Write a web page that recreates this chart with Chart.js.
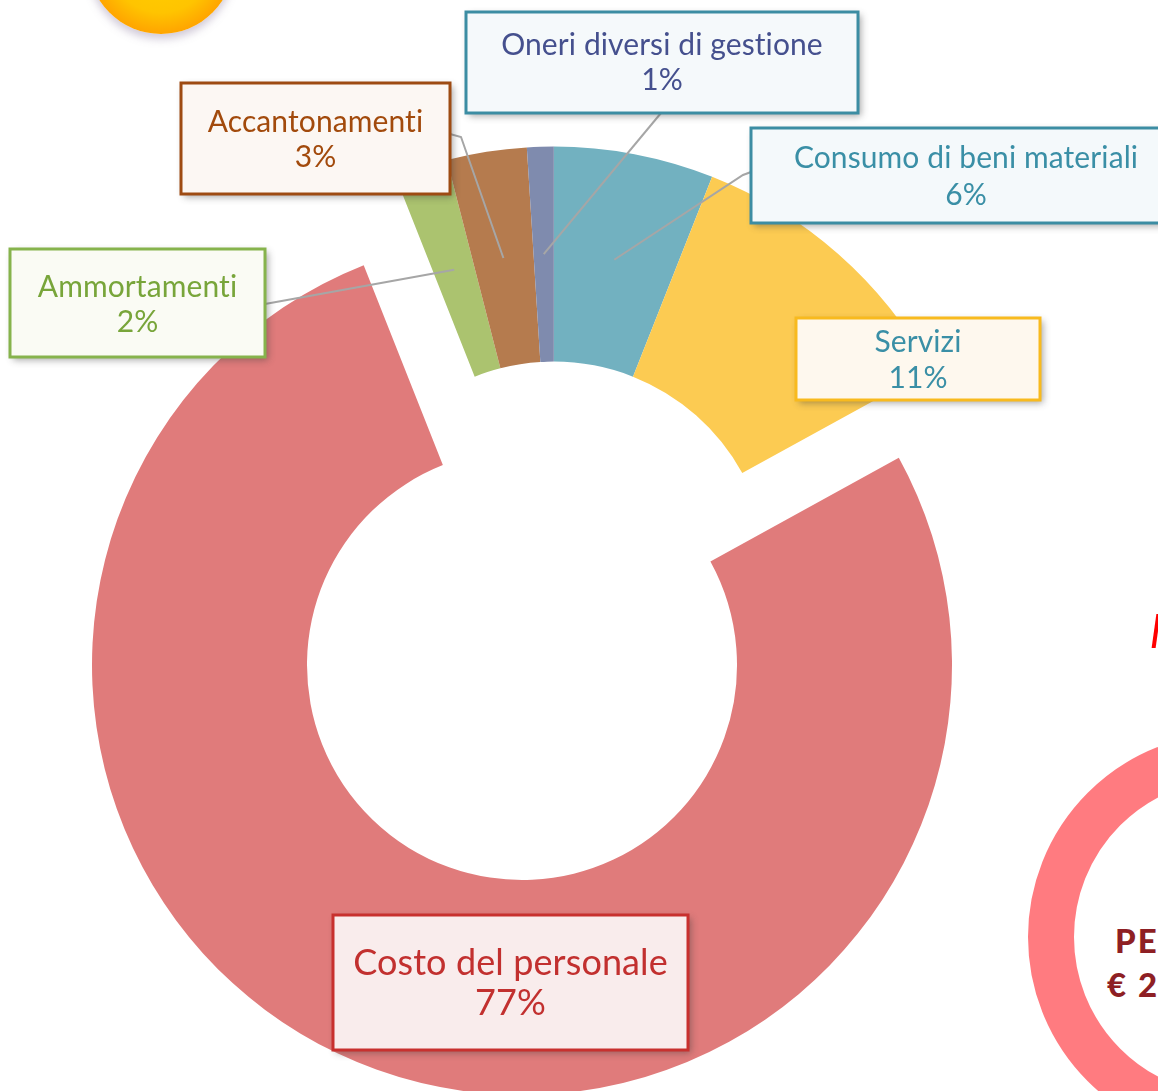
<!DOCTYPE html>
<html>
<head>
<meta charset="utf-8">
<script src="https://cdn.jsdelivr.net/npm/chart.js@4.4.1/dist/chart.umd.min.js"></script>
<style>
  html, body { margin: 0; padding: 0; background: #fff; overflow: hidden; }
  #wrap { position: relative; width: 1158px; height: 1091px; overflow: hidden; }
  #costchart { position: absolute; left: 0; top: 0; }
  .sun {
    position: absolute; left: 88px; top: -112px; width: 146px; height: 146px; border-radius: 50%;
    background: radial-gradient(circle, #FFD200 0%, #FFC400 50%, #FFA800 68%, #FF9600 85%, #FF8C00 100%);
    box-shadow: 0 5px 9px rgba(120, 100, 140, 0.35);
  }
  .ring {
    position: absolute; left: 1028px; top: 733px; width: 408px; height: 408px; box-sizing: border-box;
    border: 46px solid #FF7B80; border-radius: 50%;
  }
  .ringtext {
    position: absolute; font-family: Lato, sans-serif; font-weight: 900; font-size: 33px;
    color: #8E1F24; letter-spacing: 2px; line-height: 1; white-space: nowrap;
  }
  .slash {
    position: absolute; left: 1154px; top: 614px; width: 4px; height: 34px; background: #F00;
    transform: skewX(-8deg);
  }
</style>
</head>
<body>
<div id="wrap">
  <div class="sun"></div>
  <div class="ring"></div>
  <div class="slash"></div>
  <div class="ringtext" style="left:1115px; top:924px;">PE</div>
  <div class="ringtext" style="left:1107px; top:968px;">€ 2</div>
  <canvas id="costchart" width="1158" height="1100"></canvas>
</div>
<script>
// data, in the order the slices run clockwise from the top
var categories = ["Consumo di beni materiali", "Servizi", "Costo del personale", "Ammortamenti", "Accantonamenti", "Oneri diversi di gestione"];
var shares = [6, 11, 77, 2, 3, 1];
var sliceColors = ["#72B1C0", "#FCCB52", "#E07B7B", "#ABC36F", "#B57B4E", "#7F8BAE"];
var mainIndex = 2;       // the slice that stays in place, the others are pulled out together
var explode = 94;

// callout boxes (pixels), same order as categories
var callouts = [
  { x: 751, y: 128, w: 430, h: 95, lines: [158, 195], size: 30, color: "#3A8FA6", border: "#3C8DA3", fill: "#F4F9FB", leader: [[751, 172], [743, 175]] },
  { x: 796, y: 318, w: 244, h: 82, lines: [342, 378], size: 30, color: "#3A8FA6", border: "#F8BA1E", fill: "#FEF8EE", leader: null },
  { x: 333, y: 915, w: 355, h: 135, lines: [963, 1003], size: 36, color: "#C2302F", border: "#C8302E", fill: "#F9ECEC", leader: null },
  { x: 10, y: 249, w: 255, h: 108, lines: [287, 322], size: 30, color: "#78A53A", border: "#86B34C", fill: "#FAFBF4", leader: [[265, 304]] },
  { x: 181, y: 83, w: 269, h: 111, lines: [122, 157], size: 30, color: "#A24A0C", border: "#9E4B12", fill: "#FCF7F3", leader: [[450, 134], [461, 137]] },
  { x: 466, y: 12, w: 392, h: 101, lines: [45, 80], size: 30, color: "#45508E", border: "#3C8DA3", fill: "#F5F9FB", leader: [[661, 113]] }
];

function explodeShift(meta) {
  var main = meta.data[mainIndex];
  var mid = (main.startAngle + main.endAngle) / 2;
  return { x: -Math.cos(mid) * explode, y: -Math.sin(mid) * explode };
}

// pull every small slice out by the same vector
var explodePlugin = {
  id: "explodeGroup",
  afterDatasetUpdate: function (chart, args) {
    var meta = args.meta;
    meta.data.forEach(function (arc, i) {
      if (i === mainIndex || arc._grouped) return;
      var orig = arc.draw;
      arc._grouped = true;
      arc.draw = function (ctx, area) {
        var s = explodeShift(meta);
        ctx.save();
        ctx.translate(s.x, s.y);
        orig.call(this, ctx, area);
        ctx.restore();
      };
    });
  }
};

var calloutPlugin = {
  id: "callouts",
  afterDatasetsDraw: function (chart) {
    var ctx = chart.ctx;
    var meta = chart.getDatasetMeta(0);
    var s = explodeShift(meta);
    var total = shares.reduce(function (a, b) { return a + b; }, 0);

    // leader lines first
    ctx.save();
    ctx.strokeStyle = "#A6A6A6";
    ctx.lineWidth = 2;
    callouts.forEach(function (c, i) {
      if (!c.leader) return;
      var p = meta.data[i].getCenterPoint();
      var dx = i === mainIndex ? 0 : s.x, dy = i === mainIndex ? 0 : s.y;
      ctx.beginPath();
      ctx.moveTo(c.leader[0][0], c.leader[0][1]);
      for (var k = 1; k < c.leader.length; k++) ctx.lineTo(c.leader[k][0], c.leader[k][1]);
      ctx.lineTo(p.x + dx, p.y + dy);
      ctx.stroke();
    });
    ctx.restore();

    callouts.forEach(function (c, i) {
      ctx.save();
      ctx.shadowColor = "rgba(60,60,60,0.45)";
      ctx.shadowBlur = 7;
      ctx.shadowOffsetX = 3;
      ctx.shadowOffsetY = 3;
      ctx.fillStyle = c.fill;
      ctx.fillRect(c.x, c.y, c.w, c.h);
      ctx.restore();

      ctx.save();
      ctx.lineWidth = 3;
      ctx.strokeStyle = c.border;
      ctx.strokeRect(c.x, c.y, c.w, c.h);
      ctx.fillStyle = c.color;
      ctx.font = c.size + "px Lato, sans-serif";
      if ("letterSpacing" in ctx) ctx.letterSpacing = "0.1px";   // keeps "ti" from turning into a ligature
      ctx.textAlign = "center";
      ctx.textBaseline = "middle";
      var cx = c.x + c.w / 2;
      ctx.fillText(categories[i], cx, c.lines[0]);
      ctx.fillText(Math.round(shares[i] / total * 100) + "%", cx, c.lines[1]);
      ctx.restore();
    });
  }
};

var canvasElement = document.getElementById("costchart");
var config = {
  type: "doughnut",
  data: {
    labels: categories,
    datasets: [
      {
        data: shares,
        backgroundColor: sliceColors,
        borderWidth: 0,
        clip: false
      }]
  },
  options: {
    responsive: false,
    animation: false,
    devicePixelRatio: 1,
    cutout: "50%",
    rotation: 0,
    layout: { padding: { left: 92, right: 206, top: 235, bottom: 5 } },
    plugins: {
      legend: { display: false },
      tooltip: { enabled: false }
    }
  },
  plugins: [explodePlugin, calloutPlugin]
};
var costchart = new Chart(canvasElement, config);
</script>
</body>
</html>
